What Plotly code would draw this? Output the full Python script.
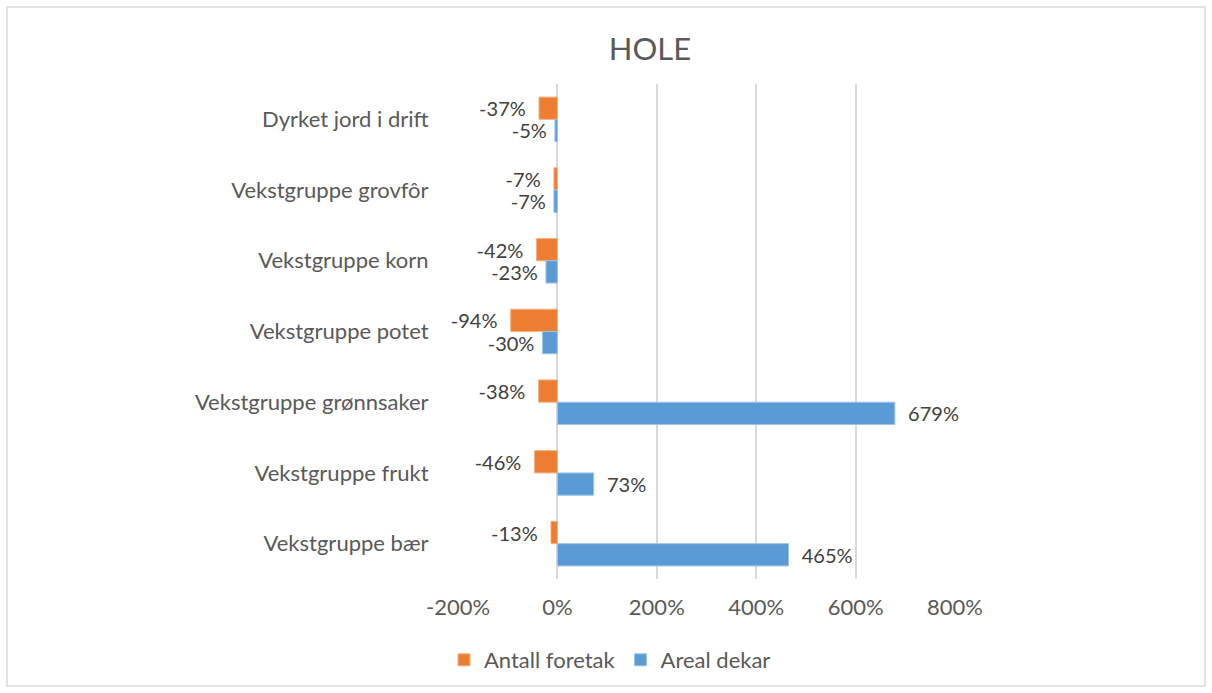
import plotly.graph_objects as go

categories = ["Dyrket jord i drift", "Vekstgruppe grovfôr", "Vekstgruppe korn",
              "Vekstgruppe potet", "Vekstgruppe grønnsaker", "Vekstgruppe frukt",
              "Vekstgruppe bær"]
antall_foretak = [-37, -7, -42, -94, -38, -46, -13]
areal_dekar = [-5, -7, -23, -30, 679, 73, 465]
x_ticks = [-200, 0, 200, 400, 600, 800]
x_tick_labels = ["-200%", "0%", "200%", "400%", "600%", "800%"]

W, H = 1212, 693
L, R, T, B = 458, 257, 84, 114
FONT = "Lato"
NBSP = "\u00a0"

fig = go.Figure()
fig.add_trace(go.Bar(
    y=categories, x=antall_foretak, orientation="h", name="Antall foretak",
    marker=dict(color="#ED7D31", line=dict(color="#F4B183", width=1)),
    text=[f"{v}%{NBSP}{NBSP}" for v in antall_foretak], textposition="outside",
    constraintext="none",
    textfont=dict(family=FONT, size=20, color="#404040"), cliponaxis=False,
))
fig.add_trace(go.Bar(
    y=categories, x=areal_dekar, orientation="h", name="Areal dekar",
    marker=dict(color="#5B9BD5", line=dict(color="#9DC3E6", width=1)),
    text=[(f"{NBSP}{NBSP}{v}%" if v > 0 else f"{v}%{NBSP}") for v in areal_dekar],
    textposition="outside", constraintext="none",
    textfont=dict(family=FONT, size=20, color="#404040"), cliponaxis=False,
))

pw = W - L - R
ph = H - T - B
fig.add_shape(type="rect", xref="paper", yref="paper",
              x0=(7 - L) / pw, x1=(1205 - L) / pw,
              y0=(H - 686 - B) / ph, y1=(H - 7 - B) / ph,
              line=dict(color="#D9D9D9", width=1.5), layer="below")

fig.update_layout(
    width=W, height=H,
    margin=dict(l=L, r=R, t=T, b=B),
    paper_bgcolor="white", plot_bgcolor="white",
    barmode="group", bargap=0.37, bargroupgap=0,
    title=dict(text="HOLE", x=650 / W, xref="container", xanchor="center",
               y=1 - 49 / H, yref="container", yanchor="middle",
               font=dict(family=FONT, size=31, color="#595959")),
    font=dict(family=FONT, size=22, color="#595959"),
    xaxis=dict(range=[-200, 800], tickvals=x_ticks, ticktext=x_tick_labels,
               showgrid=True, gridcolor="#D9D9D9", gridwidth=1.5,
               zeroline=False, showline=False,
               ticks="outside", ticklen=9, tickcolor="rgba(0,0,0,0)",
               tickfont=dict(family=FONT, size=22, color="#595959")),
    yaxis=dict(autorange="reversed", showgrid=False, zeroline=False,
               ticks="outside", ticklen=24, tickcolor="rgba(0,0,0,0)",
               tickfont=dict(family=FONT, size=22, color="#595959")),
    legend=dict(orientation="h", x=610 / W, xref="container", xanchor="center",
                y=1 - 660 / H, yref="container", yanchor="middle",
                font=dict(family=FONT, size=22, color="#595959")),
    showlegend=True,
)

fig.write_html("out.html", config={"displayModeBar": False},
               post_script="document.body.style.margin='0';")
